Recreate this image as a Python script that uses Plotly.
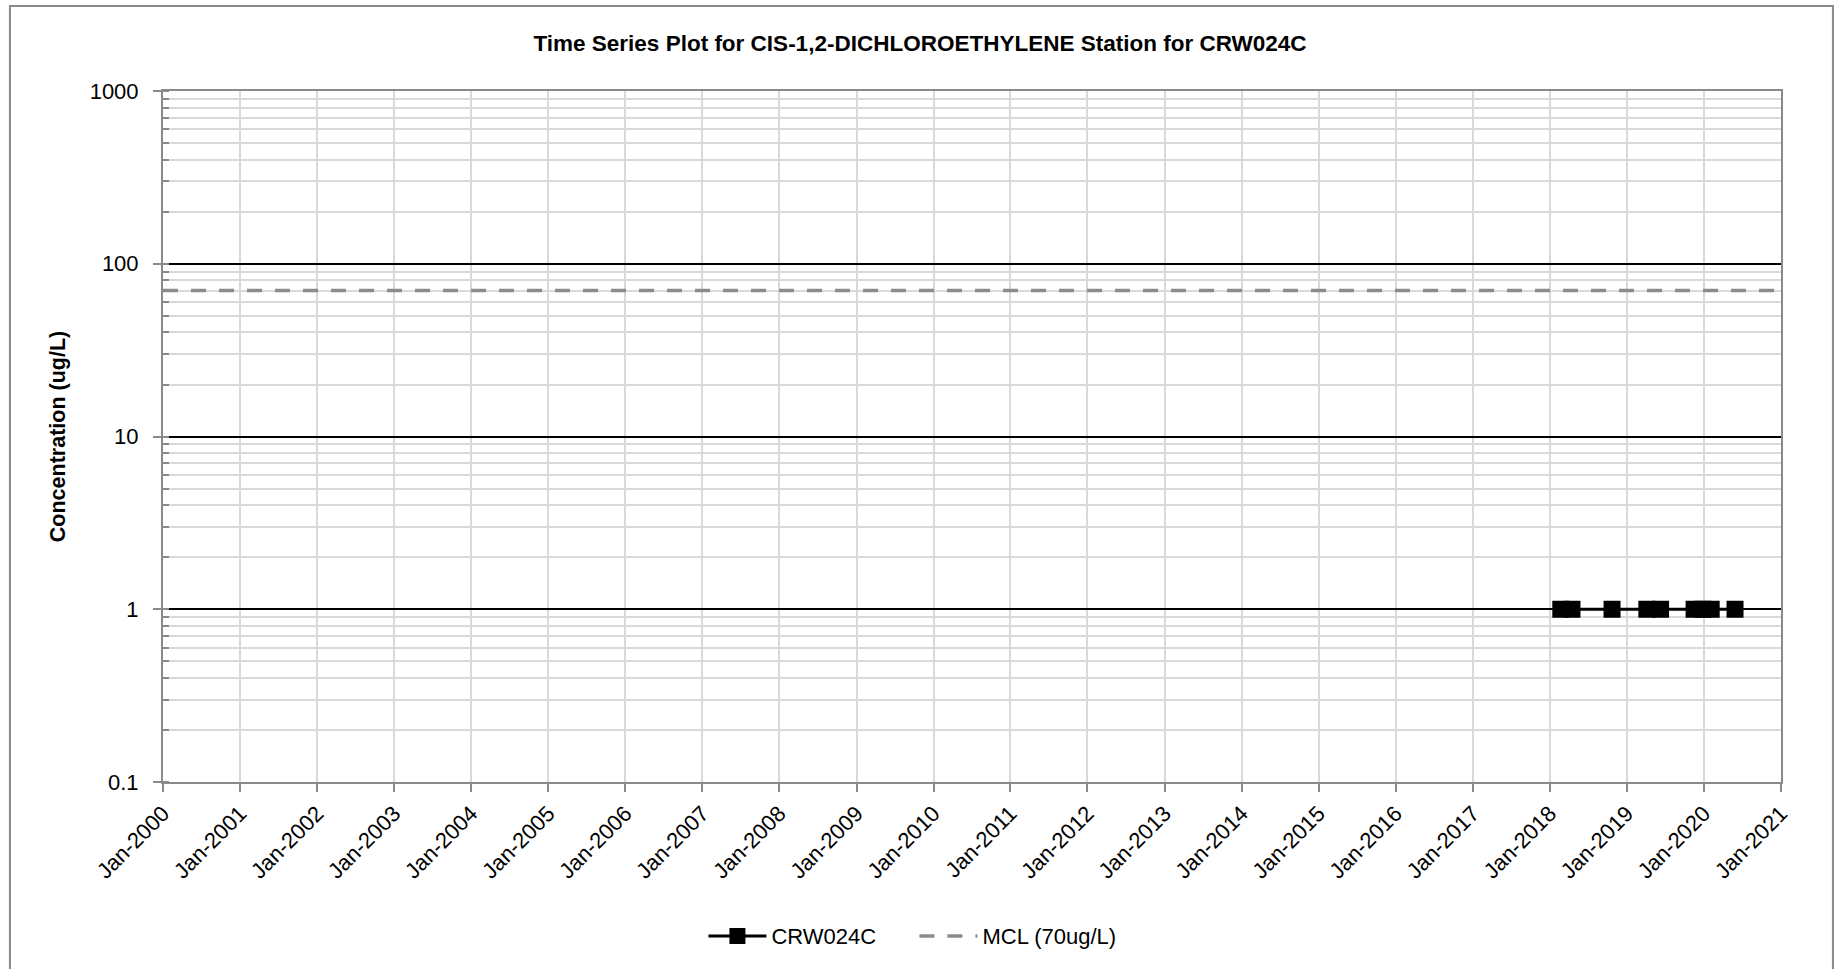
import plotly.graph_objects as go

# ---- data ----
sample_dates = ["2018-02-22", "2018-04-16", "2018-10-23", "2019-04-06", "2019-06-10",
                "2019-11-16", "2019-12-27", "2020-02-05", "2020-05-28"]
sample_values = [1, 1, 1, 1, 1, 1, 1, 1, 1]
mcl_dates = ["2000-01-01", "2021-01-01"]
mcl_values = [70, 70]
y_tickvals = [0.1, 1, 10, 100, 1000]
y_ticktext = ["0.1", "1", "10", "100", "1000"]
x_range = ["2000-01-01", "2021-01-01"]

FONT = "Liberation Sans"
AXIS_GRAY = "#8a8a8a"
GRID_GRAY = "#d9d9d9"

W, H = 1837, 969

fig = go.Figure()
fig.add_trace(go.Scatter(
    x=sample_dates, y=sample_values, name="CRW024C", mode="lines+markers",
    line=dict(color="black", width=3),
    marker=dict(symbol="square", size=17, color="black"),
))
fig.add_trace(go.Scatter(
    x=mcl_dates, y=mcl_values, name="MCL (70ug/L)", mode="lines",
    line=dict(color="#8c8c8c", width=3.5, dash="15px,13px"),
))

fig.update_layout(
    width=W, height=H,
    margin=dict(l=163, r=56, t=91, b=187),
    paper_bgcolor="white", plot_bgcolor="white",
    font=dict(family=FONT, size=21, color="black"),
    title=dict(text="<b>Time Series Plot for CIS-1,2-DICHLOROETHYLENE Station for CRW024C</b>",
               x=920 / W, xref="container", xanchor="center",
               y=1 - 43 / H, yref="container", yanchor="middle",
               font=dict(family=FONT, size=22.5, color="black")),
    showlegend=True,
    legend=dict(orientation="h", x=0.334, xanchor="left", y=-0.223, yanchor="middle",
                font=dict(family=FONT, size=22), itemwidth=58,
                entrywidth=138, entrywidthmode="pixels",
                bgcolor="rgba(0,0,0,0)"),
    shapes=[dict(type="rect", xref="paper", yref="paper",
                 x0=-0.0946, x1=1.0321, y0=-0.29, y1=1.123,
                 line=dict(color=AXIS_GRAY, width=2), fillcolor="rgba(0,0,0,0)", layer="below")],
)

fig.update_xaxes(
    type="date", range=x_range, dtick="M12", tick0="2000-01-01", tickformat="%b-%Y",
    tickangle=-45, tickfont=dict(family=FONT, size=22),
    showgrid=True, gridcolor=GRID_GRAY, gridwidth=1.5,
    showline=True, linecolor=AXIS_GRAY, linewidth=2, mirror=True,
    ticks="outside", ticklen=8, tickcolor=AXIS_GRAY, tickwidth=2,
    zeroline=False, automargin=False,
)
fig.update_yaxes(
    type="log", range=[-1, 3], tickvals=y_tickvals, ticktext=y_ticktext,
    tickfont=dict(family=FONT, size=22),
    showgrid=True, gridcolor="black", gridwidth=1.5,
    minor=dict(dtick="D1", showgrid=True, gridcolor=GRID_GRAY, gridwidth=1.5,
               ticks="inside", ticklen=6, tickcolor=AXIS_GRAY, tickwidth=2),
    showline=True, linecolor=AXIS_GRAY, linewidth=2, mirror=True,
    ticks="outside", ticklen=8, tickcolor=AXIS_GRAY, tickwidth=2,
    ticklabelstandoff=10,
    title=dict(text="<b>Concentration (ug/L)</b>", font=dict(family=FONT, size=21.5), standoff=18),
    zeroline=False, automargin=False,
)

fig.write_html("out.html", config={"displayModeBar": False},
               post_script="document.body.style.margin='0';document.body.style.overflow='hidden';")
